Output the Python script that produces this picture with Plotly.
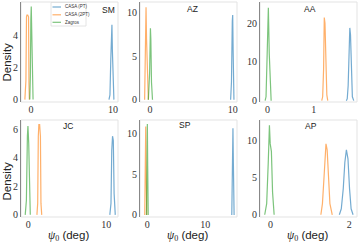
import plotly.graph_objects as go

# ---------------- data ----------------
panel_names = ["SM", "AZ", "AA", "JC", "SP", "AP"]
series_names = ["CASA (PT)", "CASA (2PT)", "Zagros"]
series_colors = ["rgba(31,119,180,0.62)", "rgba(255,127,14,0.62)", "rgba(44,160,44,0.62)"]

# SM
sm_pt_x = [9.5, 9.62, 9.72, 9.8, 9.86, 9.92, 10.0, 10.1]
sm_pt_y = [0, 0.3, 2.5, 4.5, 4.7, 3.0, 0.5, 0]
sm_2pt_x = [-0.75, -0.7, -0.62, -0.55, -0.5, -0.4, -0.3, -0.25, -0.2]
sm_2pt_y = [0, 0.9, 1.2, 5.2, 5.3, 5.3, 5.2, 1.0, 0]
sm_zg_x = [-0.15, -0.08, -0.02, 0.03, 0.08, 0.15, 0.25]
sm_zg_y = [0, 1.5, 5.0, 5.85, 4.5, 0.6, 0]
# AZ
az_pt_x = [9.75, 9.85, 9.95, 10.0, 10.05, 10.15]
az_pt_y = [0, 2, 9, 9.7, 5.8, 0]
az_2pt_x = [-0.65, -0.55, -0.48, -0.42, -0.3, -0.2]
az_2pt_y = [0, 6, 10.6, 7, 1, 0]
az_zg_x = [-0.2, -0.05, 0.05, 0.1, 0.18, 0.3]
az_zg_y = [0, 3, 8.2, 7, 2, 0]
# AA
aa_pt_x = [1.70, 1.72, 1.74, 1.76, 1.775, 1.79, 1.81, 1.83, 1.86]
aa_pt_y = [0, 0.5, 4, 14, 18.8, 17, 8, 1, 0]
aa_2pt_x = [1.17, 1.19, 1.21, 1.225, 1.24, 1.26, 1.28, 1.30]
aa_2pt_y = [0, 1, 8, 21.5, 20, 8, 1.5, 0]
aa_zg_x = [-0.05, -0.03, -0.01, 0.005, 0.02, 0.04, 0.06, 0.08]
aa_zg_y = [0, 1, 10, 23, 24, 12, 2, 0]
# JC
jc_pt_x = [10.45, 10.6, 10.7, 10.8, 10.9, 11.0, 11.15]
jc_pt_y = [0, 0.8, 4.5, 5.5, 5.2, 1.5, 0]
jc_2pt_x = [1.1, 1.2, 1.28, 1.35, 1.45, 1.55, 1.62, 1.72]
jc_2pt_y = [0, 0.8, 5.5, 6.3, 6.3, 5.5, 0.8, 0]
jc_zg_x = [-0.4, -0.25, -0.12, -0.05, 0.05, 0.15, 0.25]
jc_zg_y = [0, 1, 5.5, 6.2, 5.0, 1, 0]
# SP
sp_pt_x = [14.6, 14.72, 14.8, 14.88, 15.0]
sp_pt_y = [0, 6, 10.6, 6, 0]
sp_2pt_x = [-0.45, -0.32, -0.28, -0.22, -0.1]
sp_2pt_y = [0, 6, 10.8, 6, 0]
sp_zg_x = [-0.15, -0.05, 0.0, 0.06, 0.15]
sp_zg_y = [0, 6, 11.1, 6, 0]
# AP
ap_pt_x = [1.75, 1.80, 1.85, 1.89, 1.93, 1.97, 2.01, 2.05, 2.10]
ap_pt_y = [0, 0.8, 3.5, 7, 8.7, 7.5, 3.5, 0.8, 0]
ap_2pt_x = [1.28, 1.32, 1.36, 1.39, 1.41, 1.44, 1.47, 1.51, 1.57]
ap_2pt_y = [0, 1.5, 5, 8.5, 9.5, 8.7, 5, 1.5, 0]
ap_zg_x = [-0.15, -0.1, -0.06, -0.03, -0.01, 0.02, 0.05, 0.09]
ap_zg_y = [0, 1.5, 7, 12.0, 9.5, 8.5, 3, 0]

x_ticks = [[0, 10], [0, 10], [0, 1], [0, 10], [0, 10], [0, 2]]
y_ticks = [[0, 2, 4, 6], [0, 5, 10], [0, 10, 20], [0, 2, 4, 6], [0, 5, 10], [0, 5, 10]]

panels = [
    [(sm_pt_x, sm_pt_y), (sm_2pt_x, sm_2pt_y), (sm_zg_x, sm_zg_y)],
    [(az_pt_x, az_pt_y), (az_2pt_x, az_2pt_y), (az_zg_x, az_zg_y)],
    [(aa_pt_x, aa_pt_y), (aa_2pt_x, aa_2pt_y), (aa_zg_x, aa_zg_y)],
    [(jc_pt_x, jc_pt_y), (jc_2pt_x, jc_2pt_y), (jc_zg_x, jc_zg_y)],
    [(sp_pt_x, sp_pt_y), (sp_2pt_x, sp_2pt_y), (sp_zg_x, sp_zg_y)],
    [(ap_pt_x, ap_pt_y), (ap_2pt_x, ap_2pt_y), (ap_zg_x, ap_zg_y)],
]

# ---------------- layout ----------------
W, H = 358, 243
x_ranges = [[-1.22, 10.6], [-1.21, 10.52], [-0.16, 1.93], [-0.94, 11.5], [-1.27, 15.5], [-0.27, 2.2]]
y_ranges = [[-0.15, 6.13], [-0.25, 11.2], [-0.35, 25.5], [-0.15, 6.63], [-0.25, 11.6], [-0.3, 12.7]]
col_px = [(21, 118), (140, 237), (260, 357)]
row_px = [(2, 102), (120, 217)]

fig = go.Figure()
layout = dict(
    width=W, height=H, margin=dict(l=0, r=0, t=0, b=0, autoexpand=False),
    paper_bgcolor="white", plot_bgcolor="white", showlegend=False,
)
shapes = []
annotations = []
tick_font = dict(family="Liberation Serif", size=10, color="#333")
sans = "Liberation Sans"

title_pos = [(108, 10), (192, 9), (310, 9), (68, 126), (185, 125), (311, 126)]

for i in range(6):
    r, c = divmod(i, 3)
    n = i + 1
    xa = "xaxis" if n == 1 else f"xaxis{n}"
    ya = "yaxis" if n == 1 else f"yaxis{n}"
    xr = "x" if n == 1 else f"x{n}"
    yr = "y" if n == 1 else f"y{n}"
    x0, x1 = col_px[c]
    y0, y1 = row_px[r]
    layout[xa] = dict(
        domain=[x0 / W, x1 / W], range=x_ranges[i], anchor=yr, automargin=False,
        tickvals=x_ticks[i], ticks="", showgrid=False, zeroline=False,
        showline=False, tickfont=tick_font,
    )
    layout[ya] = dict(
        domain=[1 - y1 / H, 1 - y0 / H], range=y_ranges[i], anchor=xr, automargin=False,
        tickvals=y_ticks[i], ticks="", showgrid=False, zeroline=False,
        showline=True, linecolor="#888", linewidth=1, tickfont=tick_font,
    )
    shapes.append(dict(type="rect", xref=f"{xr} domain", yref=f"{yr} domain",
                       x0=0, x1=1, y0=0, y1=1, line=dict(color="#e3e3e3", width=1),
                       layer="below"))
    for s, (xs, ys) in enumerate(panels[i]):
        fig.add_trace(go.Scatter(x=xs, y=ys, mode="lines", xaxis=xr, yaxis=yr,
                                 name=series_names[s],
                                 line=dict(color=series_colors[s], width=1.2)))
    tx, ty = title_pos[i]
    annotations.append(dict(text=panel_names[i], x=tx / W, y=1 - ty / H, xref="paper", yref="paper",
                            showarrow=False, font=dict(family=sans, size=8.5, color="#222"),
                            xanchor="center", yanchor="middle"))

# axis labels
for yc in (62, 181):
    annotations.append(dict(text="Density", x=6.5 / W, y=1 - yc / H, xref="paper", yref="paper",
                            showarrow=False, textangle=-90,
                            font=dict(family=sans, size=11.5, color="#222"),
                            xanchor="center", yanchor="middle"))
for xc in (68, 187, 307):
    annotations.append(dict(
        text='<span style="font-family:Liberation Serif"><i>ψ</i><sub>0</sub></span> (deg)',
        x=xc / W, y=1 - 236 / H, xref="paper", yref="paper", showarrow=False,
        font=dict(family=sans, size=11.5, color="#222"), xanchor="center", yanchor="middle"))

# legend box (panel SM)
shapes.append(dict(type="rect", xref="paper", yref="paper", x0=51 / W, x1=86 / W,
                   y0=1 - 26 / H, y1=1 - 2.5 / H, line=dict(color="#dddddd", width=0.8),
                   fillcolor="rgba(255,255,255,0.8)"))
for s, yy in enumerate((7, 14.8, 22.3)):
    shapes.append(dict(type="line", xref="paper", yref="paper", x0=52.5 / W, x1=61 / W,
                       y0=1 - yy / H, y1=1 - yy / H,
                       line=dict(color=series_colors[s], width=1.2)))
    annotations.append(dict(text=series_names[s], x=63 / W, y=1 - yy / H, xref="paper", yref="paper",
                            showarrow=False, font=dict(family=sans, size=4.5, color="#333"),
                            xanchor="left", yanchor="middle"))

layout["shapes"] = shapes
layout["annotations"] = annotations
fig.update_layout(**layout)
fig.write_html("out.html", config={"displayModeBar": False},
               post_script="document.body.style.margin='0';document.body.style.overflow='hidden';")
